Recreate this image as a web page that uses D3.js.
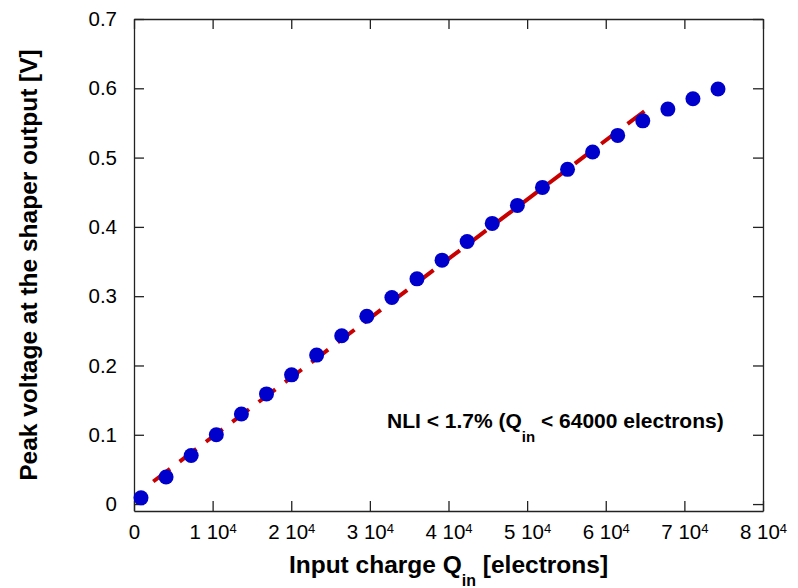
<!DOCTYPE html>
<html>
<head>
<meta charset="utf-8">
<script src="https://cdn.jsdelivr.net/npm/d3@7"></script>
<style>
  body { margin: 0; background: #fff; }
  svg { display: block; font-family: "Liberation Sans", Arial, Helvetica, sans-serif; }
  .tick text { font-family: "Liberation Sans", Arial, Helvetica, sans-serif; font-size: 20.5px; fill: #000; }
  .axis path, .axis line { stroke: #222; stroke-width: 1.3; }
  .title { font-weight: bold; font-size: 24.5px; fill: #000; }
  .anno { font-weight: bold; font-size: 21px; fill: #000; }
</style>
</head>
<body>
<div id="chart"></div>
<script>
// Input charge in electrons, peak voltage in volts
const charge = [890, 4080, 7270, 10470, 13660, 16850, 20040, 23230, 26420, 29610, 32800, 35990,
  39180, 42370, 45560, 48760, 51950, 55140, 58330, 61520, 64710, 67900, 71090, 74280];
const voltage = [0.009, 0.039, 0.070, 0.100, 0.130, 0.159, 0.1865, 0.215, 0.243, 0.271, 0.298, 0.325,
  0.352, 0.379, 0.405, 0.431, 0.457, 0.483, 0.508, 0.532, 0.553, 0.570, 0.585, 0.599];

// linear fit, start and end point
const fitCharge = [2450, 65000];
const fitVoltage = [0.0326, 0.5677];

const xTicks = [0, 10000, 20000, 30000, 40000, 50000, 60000, 70000, 80000];
const yTicks = [0, 0.1, 0.2, 0.3, 0.4, 0.5, 0.6, 0.7];

function renderChart() {
  const margin = { top: 19, right: 35, bottom: 77, left: 134 };
  const totalWidth = 798;
  const totalHeight = 588;
  const width = totalWidth - margin.left - margin.right;
  const height = totalHeight - margin.top - margin.bottom;

  const svg = d3.select('#chart')
    .append('svg')
    .attr('width', totalWidth)
    .attr('height', totalHeight)
    .append('g')
    .attr('transform', `translate(${margin.left},${margin.top})`);

  const xScale = d3.scaleLinear().domain([0, 80000]).range([0, width]);
  const yScale = d3.scaleLinear().domain([-0.01, 0.7]).range([height, 0]);

  // bottom axis with "n 10^4" labels
  const xAxis = d3.axisBottom(xScale)
    .tickValues(xTicks)
    .tickSizeInner(-10)
    .tickSizeOuter(0)
    .tickPadding(13)
    .tickFormat(d => d === 0 ? '0' : (d / 10000) + ' 10');

  const gx = svg.append('g')
    .attr('class', 'axis')
    .attr('transform', `translate(0,${height})`)
    .call(xAxis);

  gx.selectAll('.tick text')
    .filter(d => d !== 0)
    .append('tspan')
    .attr('dy', '-0.45em')
    .style('font-size', '13px')
    .text('4');

  const yAxis = d3.axisLeft(yScale)
    .tickValues(yTicks)
    .tickSizeInner(-10)
    .tickSizeOuter(0)
    .tickPadding(17)
    .tickFormat(d3.format('.1~f'));

  svg.append('g').attr('class', 'axis').call(yAxis);

  // mirrored ticks on top and right
  svg.append('g')
    .attr('class', 'axis')
    .call(d3.axisTop(xScale).tickValues(xTicks).tickSizeInner(-10).tickSizeOuter(0).tickFormat(''));

  svg.append('g')
    .attr('class', 'axis')
    .attr('transform', `translate(${width},0)`)
    .call(d3.axisRight(yScale).tickValues(yTicks).tickSizeInner(-10).tickSizeOuter(0).tickFormat(''));

  // dashed fit line
  const fit = fitCharge.map((q, i) => ({ q: q, v: fitVoltage[i] }));
  const line = d3.line()
    .x(d => xScale(d.q))
    .y(d => yScale(d.v));

  svg.append('path')
    .datum(fit)
    .attr('d', line)
    .style('fill', 'none')
    .style('stroke', '#c80000')
    .style('stroke-width', 4)
    .style('stroke-dasharray', '21,12');

  // measured points
  const points = charge.map((q, i) => ({ q: q, v: voltage[i] }));
  svg.selectAll('.dot')
    .data(points)
    .enter()
    .append('circle')
    .attr('class', 'dot')
    .attr('cx', d => xScale(d.q))
    .attr('cy', d => yScale(d.v))
    .attr('r', 7.5)
    .style('fill', '#0000cd');

  // annotation
  const anno = svg.append('text')
    .attr('class', 'anno')
    .attr('x', 253)
    .attr('y', 409);
  anno.append('tspan').text('NLI < 1.7% (Q');
  anno.append('tspan').attr('dy', 14).style('font-size', '15px').text('in');
  anno.append('tspan').attr('dy', -14).text(' < 64000 electrons)');

  // x-axis title
  const xt = svg.append('text')
    .attr('class', 'title')
    .attr('text-anchor', 'middle')
    .attr('x', width / 2)
    .attr('y', height + 62);
  xt.append('tspan').text('Input charge Q');
  xt.append('tspan').attr('dy', 13).style('font-size', '16px').text('in');
  xt.append('tspan').attr('dy', -13).text('  [electrons]');

  // y-axis title
  svg.append('text')
    .attr('class', 'title')
    .attr('text-anchor', 'middle')
    .attr('transform', 'rotate(-90)')
    .attr('x', -height / 2)
    .attr('y', -margin.left + 37)
    .text('Peak voltage at the shaper output [V]');
}

renderChart();
</script>
</body>
</html>
